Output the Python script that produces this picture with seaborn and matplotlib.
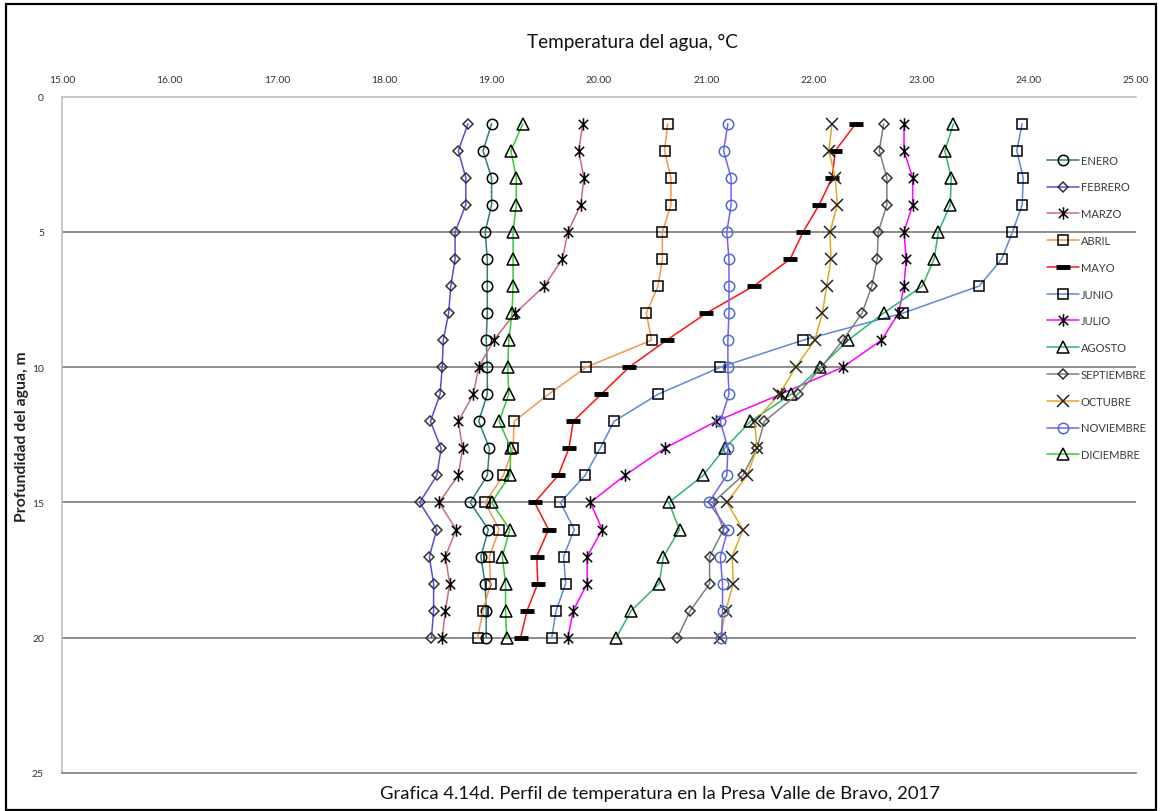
import numpy as np
import pandas as pd
import matplotlib
matplotlib.use("Agg")
import matplotlib.pyplot as plt
from matplotlib.path import Path
from matplotlib.patches import Rectangle
import seaborn as sns

# ---------------- data ----------------
depths = list(range(1, 21))
months = ["ENERO", "FEBRERO", "MARZO", "ABRIL", "MAYO", "JUNIO", "JULIO",
          "AGOSTO", "SEPTIEMBRE", "OCTUBRE", "NOVIEMBRE", "DICIEMBRE"]

enero = [19.00, 18.92, 19.00, 19.00, 18.94, 18.96, 18.96, 18.96, 18.95, 18.96,
         18.96, 18.88, 18.98, 18.96, 18.80, 18.97, 18.90, 18.94, 18.95, 18.95]
febrero = [18.78, 18.69, 18.76, 18.76, 18.66, 18.66, 18.62, 18.60, 18.55, 18.54,
           18.52, 18.43, 18.53, 18.49, 18.33, 18.49, 18.42, 18.46, 18.46, 18.44]
marzo = [19.85, 19.81, 19.86, 19.83, 19.71, 19.66, 19.49, 19.22, 19.02, 18.88,
         18.83, 18.69, 18.73, 18.69, 18.51, 18.67, 18.57, 18.61, 18.57, 18.54]
abril = [20.64, 20.61, 20.67, 20.67, 20.59, 20.59, 20.55, 20.44, 20.49, 19.88,
         19.53, 19.21, 19.20, 19.11, 18.94, 19.07, 18.98, 18.99, 18.92, 18.87]
mayo = [22.39, 22.20, 22.17, 22.05, 21.90, 21.78, 21.44, 21.00, 20.63, 20.28,
        20.02, 19.76, 19.72, 19.62, 19.40, 19.53, 19.42, 19.43, 19.33, 19.27]
junio = [23.94, 23.89, 23.95, 23.94, 23.85, 23.75, 23.54, 22.83, 21.90, 21.13,
         20.55, 20.14, 20.01, 19.87, 19.64, 19.77, 19.67, 19.69, 19.60, 19.56]
julio = [22.84, 22.84, 22.92, 22.92, 22.84, 22.86, 22.84, 22.79, 22.63, 22.27,
         21.69, 21.09, 20.61, 20.24, 19.92, 20.03, 19.89, 19.89, 19.76, 19.71]
agosto = [23.30, 23.22, 23.28, 23.27, 23.16, 23.12, 23.01, 22.65, 22.32, 22.06,
          21.79, 21.41, 21.17, 20.97, 20.65, 20.75, 20.60, 20.56, 20.30, 20.16]
septiembre = [22.65, 22.61, 22.68, 22.68, 22.60, 22.59, 22.54, 22.45, 22.27, 22.07,
              21.85, 21.54, 21.47, 21.34, 21.06, 21.16, 21.03, 21.03, 20.85, 20.73]
octubre = [22.17, 22.14, 22.20, 22.22, 22.15, 22.16, 22.12, 22.08, 22.01, 21.83,
           21.68, 21.45, 21.47, 21.38, 21.19, 21.34, 21.24, 21.25, 21.18, 21.13]
noviembre = [21.20, 21.16, 21.23, 21.23, 21.19, 21.21, 21.21, 21.21, 21.20, 21.20,
             21.21, 21.13, 21.20, 21.19, 21.02, 21.20, 21.13, 21.15, 21.15, 21.14]
diciembre = [19.29, 19.18, 19.23, 19.23, 19.20, 19.20, 19.20, 19.19, 19.16, 19.15,
             19.16, 19.07, 19.18, 19.17, 19.00, 19.17, 19.10, 19.13, 19.13, 19.14]

series = [enero, febrero, marzo, abril, mayo, junio, julio,
          agosto, septiembre, octubre, noviembre, diciembre]

x_ticks = [15, 16, 17, 18, 19, 20, 21, 22, 23, 24, 25]
y_ticks = [0, 5, 10, 15, 20, 25]

# ---------------- styles ----------------
star = Path([(-0.75, -0.75), (0.75, 0.75), (-0.75, 0.75), (0.75, -0.75),
             (0, -1.0), (0, 1.0)],
            [Path.MOVETO, Path.LINETO, Path.MOVETO, Path.LINETO,
             Path.MOVETO, Path.LINETO])

styles = {
    "ENERO":      dict(color="#2A7F7F", marker="o", ms=7.5, mec="black"),
    "FEBRERO":    dict(color="#5050E0", marker="D", ms=5.0, mec="#333333"),
    "MARZO":      dict(color="#C96B7B", marker=star, ms=9, mec="black"),
    "ABRIL":      dict(color="#F79646", marker="s", ms=7.5, mec="black"),
    "MAYO":       dict(color="#FF1010", marker="_", ms=9.5, mec="black", mew=3.5),
    "JUNIO":      dict(color="#5B8BD8", marker="s", ms=7.5, mec="black"),
    "JULIO":      dict(color="#FF00FF", marker=star, ms=9, mec="black"),
    "AGOSTO":     dict(color="#2EB86A", marker="^", ms=8, mec="black"),
    "SEPTIEMBRE": dict(color="#7F7F7F", marker="D", ms=5.0, mec="#333333"),
    "OCTUBRE":    dict(color="#E0A820", marker="x", ms=8, mec="#222222"),
    "NOVIEMBRE":  dict(color="#7A5CFF", marker="o", ms=7.5, mec="#4A6FC0"),
    "DICIEMBRE":  dict(color="#33CC33", marker="^", ms=8, mec="black"),
}

sns.set_theme(style="white")
plt.rcParams["font.family"] = ["Lato", "DejaVu Sans"]

W, H = 1161, 812
fig = plt.figure(figsize=(W / 100, H / 100), dpi=100)
ax = fig.add_axes([62 / W, 1 - 774 / H, (1136 - 62) / W, (774 - 97.7) / H])

for name, vals in zip(months, series):
    st = dict(styles[name])
    color = st.pop("color")
    mew = st.pop("mew", 1.1)
    df = pd.DataFrame({"temp": vals, "depth": depths})
    sns.lineplot(data=df, x="temp", y="depth", sort=False, estimator=None,
                 ax=ax, color=color, lw=1.1, label=name,
                 mfc="none", mew=mew, zorder=3, **st)

ax.set_xlim(15, 25)
ax.set_ylim(25, 0)
ax.xaxis.tick_top()
ax.set_xticks(x_ticks)
ax.set_xticklabels([f"{v:.2f}" for v in x_ticks])
ax.set_yticks(y_ticks)
ax.set_yticklabels([str(v) for v in y_ticks])
ax.tick_params(axis="x", length=0, pad=9, labelsize=7.5, labelcolor="#333333")
ax.tick_params(axis="y", length=0, pad=13, labelsize=7.5, labelcolor="#333333")
ax.set_xlabel("")
ax.set_ylabel("")

ax.grid(False)
for yv in [5, 10, 15, 20]:
    ax.axhline(yv, color="#858585", lw=1.3, zorder=1)
ax.spines["right"].set_visible(False)
ax.spines["left"].set_color("#BDBDBD")
ax.spines["top"].set_color("#BDBDBD")
ax.spines["bottom"].set_color("#858585")
ax.spines["left"].set_linewidth(1.2)
ax.spines["top"].set_linewidth(1.2)
ax.spines["bottom"].set_linewidth(1.3)

leg = ax.legend(loc="center left", bbox_to_anchor=(1047 / W, 1 - 308.4 / H),
                bbox_transform=fig.transFigure, frameon=False, fontsize=8,
                handlelength=2.9, handletextpad=0.15, labelspacing=1.42,
                borderpad=0, borderaxespad=0, numpoints=1)
for t in leg.get_texts():
    t.set_color("#3A3A3A")

fig.text(632 / W, 1 - 42 / H, "Temperatura del agua, °C", ha="center", va="center",
         fontsize=13.6, color="#111111")
fig.text(22 / W, 1 - 437 / H, "Profundidad del agua, m", ha="center", va="center",
         rotation=90, fontsize=11.3, fontweight="bold", color="#222222")
fig.text(660 / W, 1 - 794 / H,
         "Grafica 4.14d. Perfil de temperatura en la Presa Valle de Bravo, 2017",
         ha="center", va="center", fontsize=13.3, color="#111111")

fig.patches.append(Rectangle((6 / W, 1 / H), (1156 - 6) / W, (807 - 1) / H,
                             transform=fig.transFigure, fill=False,
                             ec="black", lw=1.6))

fig.savefig("out.png", dpi=100)
